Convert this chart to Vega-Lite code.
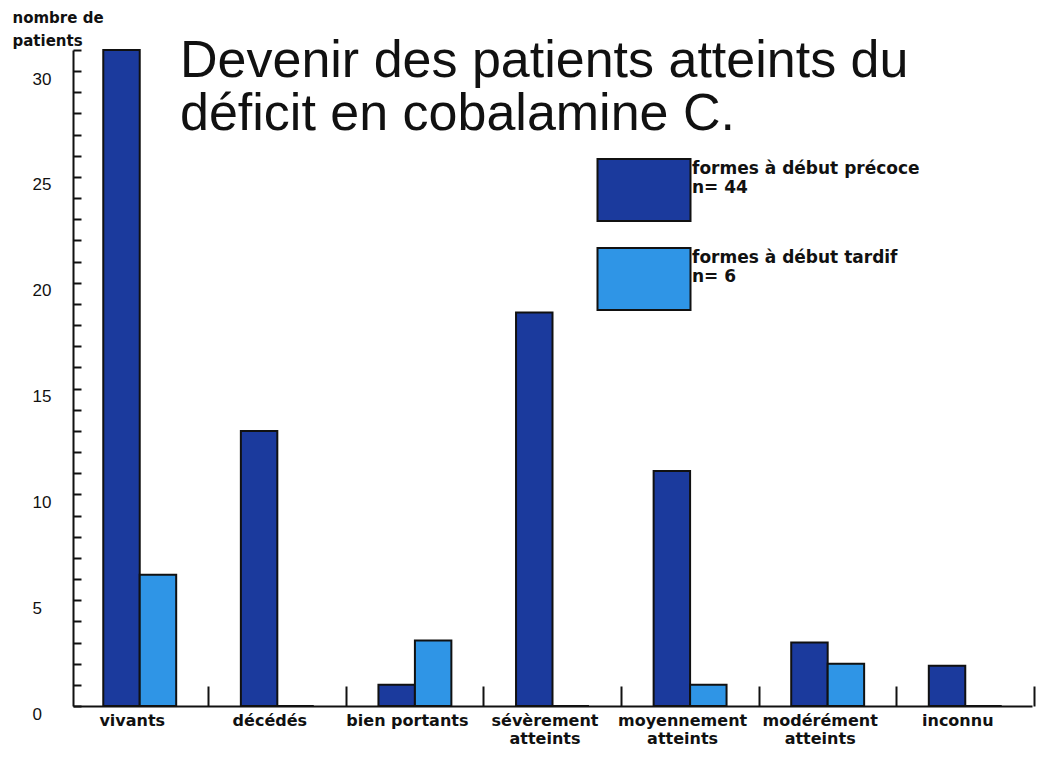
{
  "$schema": "https://vega.github.io/schema/vega-lite/v6.json",
  "autosize": "none",
  "padding": {"left": 73, "top": 50, "right": 6, "bottom": 63},
  "width": 959,
  "height": 656,
  "background": "white",
  "title": {
    "text": ["Devenir des patients atteints du", "déficit en cobalamine C."],
    "anchor": "start",
    "frame": "group",
    "orient": "top",
    "baseline": "top",
    "align": "left",
    "dx": 107,
    "dy": 71,
    "offset": -60,
    "font": "Liberation Sans",
    "fontSize": 52,
    "fontWeight": "normal",
    "lineHeight": 53,
    "color": "#111111"
  },
  "data": {
    "values": [
      {"categorie": "vivants", "forme": "précoce", "n": 31},
      {"categorie": "vivants", "forme": "tardif", "n": 6.2},
      {"categorie": "décédés", "forme": "précoce", "n": 13},
      {"categorie": "décédés", "forme": "tardif", "n": 0},
      {"categorie": "bien portants", "forme": "précoce", "n": 1},
      {"categorie": "bien portants", "forme": "tardif", "n": 3.1},
      {"categorie": "sévèrement atteints", "forme": "précoce", "n": 18.6},
      {"categorie": "sévèrement atteints", "forme": "tardif", "n": 0},
      {"categorie": "moyennement atteints", "forme": "précoce", "n": 11.1},
      {"categorie": "moyennement atteints", "forme": "tardif", "n": 1},
      {"categorie": "modérément atteints", "forme": "précoce", "n": 3},
      {"categorie": "modérément atteints", "forme": "tardif", "n": 2},
      {"categorie": "inconnu", "forme": "précoce", "n": 1.9},
      {"categorie": "inconnu", "forme": "tardif", "n": 0}
    ]
  },
  "mark": {"type": "bar", "stroke": "#111111", "strokeWidth": 2},
  "encoding": {
    "x": {
      "field": "categorie",
      "type": "nominal",
      "sort": ["vivants", "décédés", "bien portants", "sévèrement atteints", "moyennement atteints", "modérément atteints", "inconnu"],
      "scale": {"paddingInner": 0.47, "paddingOuter": 0.22},
      "axis": {
        "title": null,
        "labelAngle": 0,
        "labelAlign": "center",
        "labelBaseline": "top",
        "labelOffset": -76.5,
        "labelExpr": "split(datum.label, ' ')[0] == 'bien' || datum.label == 'vivants' || datum.label == 'décédés' || datum.label == 'inconnu' ? datum.label : split(datum.label, ' ')",
        "labelFont": "DejaVu Sans",
        "labelFontSize": 16,
        "labelFontWeight": "bold",
        "labelColor": "#111111",
        "labelPadding": 26,
        "labelLineHeight": 18,
        "labelOverlap": false,
        "labelBound": false,
        "domainColor": "#111111",
        "domainWidth": 2,
        "tickOffset": 68.5,
        "tickColor": "#111111",
        "tickWidth": 2,
        "tickSize": -20,
        "grid": false
      }
    },
    "xOffset": {"field": "forme", "sort": ["précoce", "tardif"]},
    "y": {
      "field": "n",
      "type": "quantitative",
      "scale": {"domain": [0, 31], "nice": false},
      "axis": {
        "values": [0,1,2,3,4,5,6,7,8,9,10,11,12,13,14,15,16,17,18,19,20,21,22,23,24,25,26,27,28,29,30,31],
        "labelExpr": "datum.value % 5 == 0 ? datum.label : ''",
        "title": ["nombre de", "patients"],
        "titleAngle": 0,
        "titleAlign": "left",
        "titleBaseline": "top",
        "titleX": -61,
        "titleY": -40,
        "titleFont": "DejaVu Sans",
        "titleFontSize": 15,
        "titleFontWeight": "bold",
        "titleLineHeight": 23,
        "titleColor": "#111111",
        "labelFont": "Liberation Sans",
        "labelFontSize": 17,
        "labelFontWeight": "normal",
        "labelColor": "#111111",
        "labelAlign": "left",
        "labelPadding": 49,
        "labelBaseline": "top",
        "labelOffset": 0,
        "domainColor": "#111111",
        "domainWidth": 2,
        "tickColor": "#111111",
        "tickWidth": 2,
        "tickSize": -8,
        "grid": false
      }
    },
    "color": {
      "field": "forme",
      "type": "nominal",
      "scale": {"domain": ["précoce", "tardif"], "range": ["#1b3a9d", "#2f95e6"]},
      "legend": {
        "title": null,
        "orient": "none",
        "legendX": 539,
        "legendY": 87,
        "symbolType": "M-1.5,-0.32H1.5V1.68H-1.5Z",
        "symbolSize": 3844,
        "symbolStrokeColor": "#111111",
        "symbolStrokeWidth": 2,
        "symbolOpacity": 1,
        "rowPadding": -13,
        "labelExpr": "datum.label == 'précoce' ? ['formes à début précoce', 'n= 44'] : ['formes à début tardif', 'n= 6']",
        "labelFont": "DejaVu Sans",
        "labelFontSize": 17,
        "labelFontWeight": "bold",
        "labelColor": "#111111",
        "labelLineHeight": 18,
        "labelLimit": 300,
        "labelOffset": 16
      }
    }
  },
  "config": {
    "view": {"stroke": null}
  }
}
